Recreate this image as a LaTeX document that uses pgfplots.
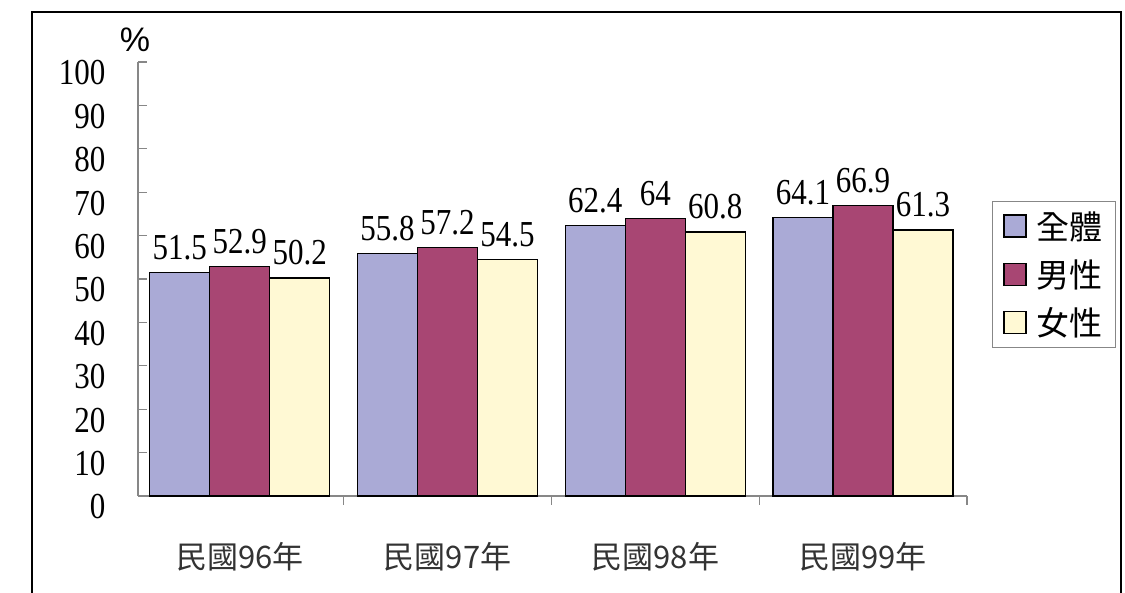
\documentclass[border=0pt]{standalone}
\usepackage{fontspec}
\setmainfont{Liberation Serif}
\newfontfamily\cjk{Noto Sans CJK TC}
\newfontfamily\sans{Liberation Sans}
\usepackage{graphicx}
\usepackage{pgfplots}
\pgfplotsset{compat=1.18}
\definecolor{cAll}{RGB}{170,170,214}
\definecolor{cMale}{RGB}{168,70,115}
\definecolor{cFemale}{RGB}{255,249,212}
\definecolor{axgray}{RGB}{135,135,135}
\begin{document}
\begin{tikzpicture}
\path[use as bounding box] (0pt,0pt) rectangle (1125pt,593pt);
\draw[line width=2pt] (32pt,-5pt) -- (32pt,581pt) -- (1121pt,581pt) -- (1121pt,-5pt);
\node[font=\sans\fontsize{34}{38}\selectfont, inner sep=0pt] at (135pt,553pt) {\%};
\begin{axis}[
  at={(138pt,97pt)}, anchor=south west, scale only axis,
  width=829pt, height=434pt,
  ymin=0, ymax=100, xmin=-0.49, xmax=3.5,
  axis x line=bottom, axis y line=left,
  axis line style={-, axgray, line width=1.3pt},
  tick align=inside,
  ytick={0,10,...,100},
  xtick={0,1,2,3},
  xticklabels={民國96年,民國97年,民國98年,民國99年},
  minor xtick={0.5,1.5,2.5,3.5},
  major x tick style={draw=none},
  tick style={axgray, line width=1.3pt},
  major tick length=9pt, minor tick length=9pt,
  /pgf/number format/assume math mode=true,
  yticklabel={\scalebox{1}[1.18]{\pgfmathprintnumber{\tick}}},
  yticklabel style={font=\fontsize{31}{34}\selectfont, xshift=-29pt, yshift=-11pt},
  xticklabel style={font=\cjk\fontsize{31}{34}\selectfont, yshift=-34pt, text=black!80},
  ybar, bar width=60pt,
  clip=false,
  nodes near coords={\scalebox{1}[1.18]{\pgfmathprintnumber{\pgfplotspointmeta}}},
  every node near coord/.append style={font=\fontsize{31}{34}\selectfont, inner sep=0pt, anchor=south, yshift=12pt, text=black},
  legend entries={全體,男性,女性},
  legend style={at={(1.030,0.68)}, anchor=north west, draw=axgray, line width=1pt,
    font=\cjk\fontsize{33}{36}\selectfont, row sep=15pt, inner xsep=11pt, inner ysep=8pt,
    cells={anchor=west}},
  legend image code/.code={\draw[#1, draw=black, line width=1.3pt] (0pt,-11pt) rectangle (22pt,11pt); \path (30pt,0pt);},
]
\addplot[fill=cAll, draw=black, line width=1.3pt, bar shift=-60pt] coordinates {(0,51.5) (1,55.8) (2,62.4) (3,64.1)};
\addplot[fill=cMale, draw=black, line width=1.3pt, bar shift=0pt] coordinates {(0,52.9) (1,57.2) (2,64) (3,66.9)};
\addplot[fill=cFemale, draw=black, line width=1.3pt, bar shift=60pt] coordinates {(0,50.2) (1,54.5) (2,60.8) (3,61.3)};
\end{axis}
\end{tikzpicture}
\end{document}
